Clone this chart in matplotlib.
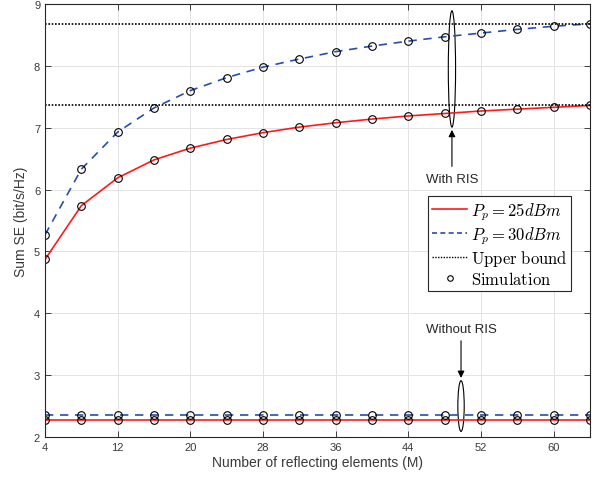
import numpy as np
import matplotlib
matplotlib.use('Agg')
import matplotlib.pyplot as plt
from matplotlib.patches import Ellipse
from matplotlib.lines import Line2D

plt.rcParams['font.family'] = ['Liberation Sans', 'DejaVu Sans']
plt.rcParams['mathtext.fontset'] = 'cm'

# data
M = [4, 8, 12, 16, 20, 24, 28, 32, 36, 40, 44, 48, 52, 56, 60, 64]
se_ris_25 = [4.87, 5.74, 6.19, 6.48, 6.67, 6.81, 6.92, 7.01, 7.08, 7.14, 7.19, 7.23, 7.27, 7.30, 7.33, 7.36]
se_ris_30 = [5.27, 6.33, 6.93, 7.32, 7.60, 7.81, 7.98, 8.11, 8.23, 8.32, 8.40, 8.47, 8.53, 8.59, 8.64, 8.68]
bound_25 = 7.36
bound_30 = 8.68
se_noris_25 = [2.28] * len(M)
se_noris_30 = [2.35] * len(M)
xticks = [4, 12, 20, 28, 36, 44, 52, 60]

fig = plt.figure(figsize=(6.06, 4.81), dpi=100)
ax = fig.add_axes((0.0743, 0.0894, 0.8993, 0.9002))

red = '#ff1a1a'
blue = '#2a4ea6'
txt = '#3a3a3a'

# curves
ax.plot(M, se_ris_25, color=red, lw=1.2, ls='-')
ax.plot(M, se_ris_30, color=blue, lw=1.2, ls=(0, (5, 4)))
ax.plot(M, se_noris_25, color=red, lw=1.2, ls='-')
ax.plot(M, se_noris_30, color=blue, lw=1.2, ls=(0, (5, 4)))
ax.plot([M[0], M[-1]], [bound_30, bound_30], color='k', lw=1.2, ls=(0, (1, 1)))
ax.plot([M[0], M[-1]], [bound_25, bound_25], color='k', lw=1.2, ls=(0, (1, 1)))

# simulation markers
for s in (se_ris_25, se_ris_30, se_noris_25, se_noris_30):
    ax.plot(M, s, ls='none', marker='o', ms=5.5, mfc='none', mec='k', mew=0.8)

# annotations
ax.add_patch(Ellipse((48.8, 7.95), 0.8, 1.88, fill=False, ec='k', lw=0.8))
ax.annotate('', xy=(48.8, 7.01), xytext=(48.8, 6.33),
            arrowprops=dict(arrowstyle='-|>', color='k', lw=0.8, mutation_scale=10))
ax.text(48.8, 6.17, 'With RIS', ha='center', va='center', fontsize=9.5, color='#262626')

ax.add_patch(Ellipse((49.8, 2.5), 0.7, 0.82, fill=False, ec='k', lw=0.8))
ax.annotate('', xy=(49.8, 2.91), xytext=(49.8, 3.6),
            arrowprops=dict(arrowstyle='-|>', color='k', lw=0.8, mutation_scale=10))
ax.text(49.8, 3.75, 'Without RIS', ha='center', va='center', fontsize=9.5, color='#262626')

# legend
handles = [
    Line2D([], [], color=red, lw=1.2),
    Line2D([], [], color=blue, lw=1.2, ls=(0, (3, 2))),
    Line2D([], [], color='k', lw=1.0, ls=(0, (1, 1))),
    Line2D([], [], ls='none', marker='o', ms=4, mfc='none', mec='k', mew=0.8),
]
labels = [r'$P_p = 25dBm$', r'$P_p = 30dBm$', r'$\mathrm{Upper\ bound}$', r'$\mathrm{Simulation}$']
leg = ax.legend(handles, labels, loc='upper right', bbox_to_anchor=(0.966, 0.556),
                fontsize=12, fancybox=False, edgecolor='#262626', framealpha=1,
                handlelength=2.1, handletextpad=0.2, borderpad=0.25, labelspacing=0.12,
                borderaxespad=0)
leg.get_frame().set_linewidth(0.8)

ax.set_xlim(4, 64)
ax.set_ylim(2, 9)
ax.set_xticks(xticks)
ax.set_yticks([2, 3, 4, 5, 6, 7, 8, 9])
ax.grid(True, color='#e3e3e3', lw=0.7)
ax.set_axisbelow(True)
ax.tick_params(direction='in', top=True, right=True, labelsize=8, colors='#262626',
               labelcolor=txt, length=4, width=0.6)
for sp in ax.spines.values():
    sp.set_color('#262626')
    sp.set_linewidth(0.8)
ax.set_xlabel('Number of reflecting elements (M)', fontsize=10, color=txt, labelpad=2)
ax.set_ylabel('Sum SE (bit/s/Hz)', fontsize=10, color=txt, labelpad=4)

fig.savefig('out.png', dpi=100)
